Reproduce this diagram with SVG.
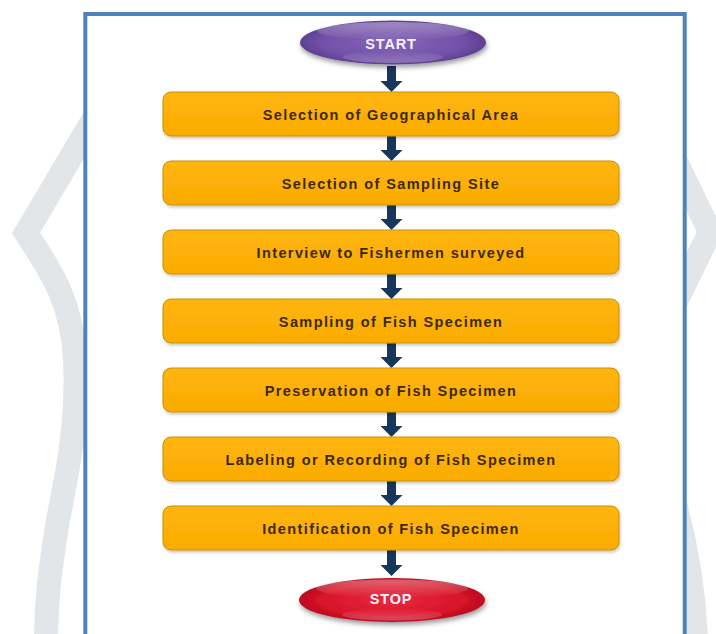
<svg xmlns="http://www.w3.org/2000/svg" width="716" height="634" viewBox="0 0 716 634">
  <style>
    .band { fill: none; stroke: #e2e6e9; stroke-linejoin: miter; }
    .box { fill: url(#boxGrad); stroke: #c99200; stroke-width: 1; filter: url(#boxShadow); }
    .lbl { font-family: "Liberation Sans", Arial, sans-serif; font-weight: bold; font-size: 14.5px; letter-spacing: 1.4px; fill: #3d2a05; text-anchor: middle; }
    .term { font-family: "Liberation Sans", Arial, sans-serif; font-weight: bold; font-size: 14.5px; letter-spacing: 0.8px; fill: #f6f2fa; text-anchor: middle; }
    .conn { stroke: #17365d; stroke-width: 9; fill: none; marker-end: url(#head); }
  </style>
  <defs>
    <linearGradient id="boxGrad" x1="0" y1="0" x2="0" y2="1">
      <stop offset="0" stop-color="#ffb50f"/>
      <stop offset="1" stop-color="#faab00"/>
    </linearGradient>
    <radialGradient id="purpleGrad" cx="0.5" cy="0.5" r="0.55">
      <stop offset="0" stop-color="#8566b9"/>
      <stop offset="0.7" stop-color="#7250a8"/>
      <stop offset="1" stop-color="#573889"/>
    </radialGradient>
    <radialGradient id="redGrad" cx="0.5" cy="0.5" r="0.55">
      <stop offset="0" stop-color="#e82a3e"/>
      <stop offset="0.7" stop-color="#d8132a"/>
      <stop offset="1" stop-color="#ad0a1b"/>
    </radialGradient>
    <linearGradient id="gloss" x1="0" y1="0" x2="0" y2="1">
      <stop offset="0" stop-color="#ffffff" stop-opacity="0.35"/>
      <stop offset="1" stop-color="#ffffff" stop-opacity="0"/>
    </linearGradient>
    <linearGradient id="glossBottom" x1="0" y1="0" x2="0" y2="1">
      <stop offset="0" stop-color="#ffffff" stop-opacity="0"/>
      <stop offset="1" stop-color="#ffffff" stop-opacity="0.25"/>
    </linearGradient>
    <filter id="boxShadow" x="-5%" y="-20%" width="110%" height="150%">
      <feDropShadow dx="1" dy="2" stdDeviation="1.5" flood-color="#000" flood-opacity="0.22"/>
    </filter>
    <filter id="ellShadow" x="-10%" y="-30%" width="120%" height="170%">
      <feDropShadow dx="1" dy="3" stdDeviation="2.5" flood-color="#000" flood-opacity="0.4"/>
    </filter>
    <marker id="head" viewBox="0 -11 11 22" refX="0" refY="0" markerWidth="11" markerHeight="22" markerUnits="userSpaceOnUse" orient="auto">
      <path d="M0,-11 L11,0 L0,11 z" fill="#17365d"/>
    </marker>
  </defs>

  <rect x="0" y="0" width="716" height="634" fill="#ffffff"/>

  <!-- background watermark bands -->
  <g id="watermark">
    <path class="band" stroke-width="24" d="M100,108 L26,233 C50,270 72,300 75,360 C78,420 68,470 58,520 C50,570 46,600 46,640"/>
    <path class="band" stroke-width="24" d="M668,145 L710,232 L668,318"/>
    <path class="band" stroke-width="22" d="M672,490 C687,540 695,585 697,640"/>
  </g>

  <!-- frame -->
  <rect id="frame" x="85.3" y="14" width="599.4" height="640" fill="#ffffff" stroke="#4f81bd" stroke-width="4"/>

  <!-- connectors -->
  <g id="connectors">
    <line class="conn" x1="391.5" y1="66" x2="391.5" y2="81"/>
    <line class="conn" x1="391.5" y1="136" x2="391.5" y2="150"/>
    <line class="conn" x1="391.5" y1="205" x2="391.5" y2="219"/>
    <line class="conn" x1="391.5" y1="274" x2="391.5" y2="288"/>
    <line class="conn" x1="391.5" y1="343" x2="391.5" y2="357"/>
    <line class="conn" x1="391.5" y1="412" x2="391.5" y2="426"/>
    <line class="conn" x1="391.5" y1="481" x2="391.5" y2="495"/>
    <line class="conn" x1="391.5" y1="550" x2="391.5" y2="565"/>
  </g>

  <g id="start">
    <ellipse cx="393" cy="42.5" rx="93" ry="22" fill="url(#purpleGrad)" filter="url(#ellShadow)"/>
    <ellipse cx="393" cy="31" rx="76" ry="9" fill="url(#gloss)"/>
    <ellipse cx="393" cy="57" rx="50" ry="6" fill="url(#glossBottom)"/>
    <text class="term" x="391" y="48.5">START</text>
  </g>

  <g id="n1">
    <rect class="box" x="163" y="92" width="456" height="44" rx="8"/>
    <text class="lbl" x="391" y="119.5">Selection of Geographical Area</text>
  </g>
  <g id="n2">
    <rect class="box" x="163" y="161" width="456" height="44" rx="8"/>
    <text class="lbl" x="391" y="188.5">Selection of Sampling Site</text>
  </g>
  <g id="n3">
    <rect class="box" x="163" y="230" width="456" height="44" rx="8"/>
    <text class="lbl" x="391" y="257.5">Interview to Fishermen surveyed</text>
  </g>
  <g id="n4">
    <rect class="box" x="163" y="299" width="456" height="44" rx="8"/>
    <text class="lbl" x="391" y="326.5">Sampling of Fish Specimen</text>
  </g>
  <g id="n5">
    <rect class="box" x="163" y="368" width="456" height="44" rx="8"/>
    <text class="lbl" x="391" y="395.5">Preservation of Fish Specimen</text>
  </g>
  <g id="n6">
    <rect class="box" x="163" y="437" width="456" height="44" rx="8"/>
    <text class="lbl" x="391" y="464.5">Labeling or Recording of Fish Specimen</text>
  </g>
  <g id="n7">
    <rect class="box" x="163" y="506" width="456" height="44" rx="8"/>
    <text class="lbl" x="391" y="533.5">Identification of Fish Specimen</text>
  </g>

  <g id="stop">
    <ellipse cx="392" cy="600" rx="93" ry="22" fill="url(#redGrad)" filter="url(#ellShadow)"/>
    <ellipse cx="392" cy="588.5" rx="76" ry="9" fill="url(#gloss)"/>
    <ellipse cx="392" cy="614.5" rx="50" ry="6" fill="url(#glossBottom)"/>
    <text class="term" x="391" y="604">STOP</text>
  </g>
</svg>
